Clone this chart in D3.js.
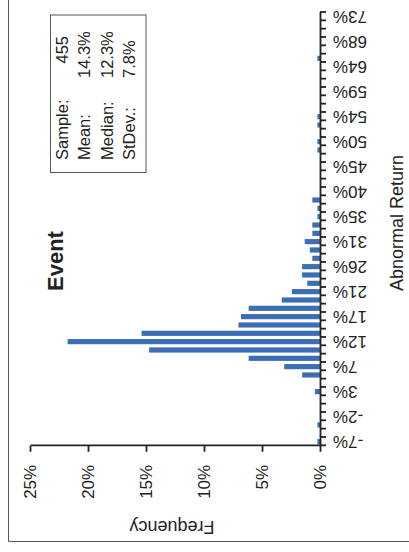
<!DOCTYPE html>
<html><head><meta charset="utf-8">
<script src="https://cdn.jsdelivr.net/npm/d3@7"></script>
<style>
html,body{margin:0;padding:0;background:#fff;}
svg{display:block;}
text{font-family:"Liberation Sans",Arial,Helvetica,sans-serif;fill:#222;}
</style>
</head><body>
<svg id="chart" width="409" height="552"></svg>
<script>
// ---- data ----
const title = "Event";
const xTitle = "Abnormal Return";
const yTitle = "Frequency";
// frequency (%) per abnormal-return bin, from lowest (-7%) to highest (73%)
const frequency = [
  0.22, 0, 0.22, 0, 0, 0, 0.44, 0, 1.54, 3.08,
  6.15, 14.73, 21.76, 15.38, 7.03, 6.81, 6.15, 3.30, 2.42, 1.10,
  1.54, 1.54, 0.66, 0.88, 1.32, 0.66, 0.66, 0.22, 0.22, 0.66,
  0, 0, 0, 0, 0, 0.22, 0.22, 0, 0.22, 0.22,
  0, 0, 0, 0, 0, 0, 0.22, 0, 0, 0,
  0, 0
];
const binTickLabels = ["-7%","-2%","3%","7%","12%","17%","21%","26%","31%","35%",
                       "40%","45%","50%","54%","59%","64%","68%","73%"];
const labelEvery = 3;
const yTicks = [0, 5, 10, 15, 20, 25];
const statLabels = ["Sample:", "Mean:", "Median:", "StDev.:"];
const statValues = ["455", "14.3%", "12.3%", "7.8%"];

// ---- layout (chart drawn upright, then turned a quarter turn) ----
const W = 552, H = 409;
const svg = d3.select("#chart");
const g = svg.append("g").attr("transform", `translate(0,${W}) rotate(-90)`);

const bins = d3.range(frequency.length);
const x = d3.scaleBand().domain(bins).range([106.2, 539.5]).paddingInner(0.38).paddingOuter(0.19);
const xEdges = d3.scaleLinear().domain([0, bins.length]).range([106.2, 539.5]);
const y = d3.scaleLinear().domain([0, 25]).range([320, 30]);

// frame
g.append("path").attr("d", `M${W},8.5 H10.5 V${H}`)
  .attr("fill", "none").attr("stroke", "#555").attr("stroke-width", 1);

// bars
g.append("g").selectAll("rect").data(bins.filter(i => frequency[i] > 0)).join("rect")
  .attr("x", i => x(i)).attr("width", x.bandwidth())
  .attr("y", i => y(frequency[i])).attr("height", i => y(0) - y(frequency[i]))
  .attr("fill", "#3d6db4");

// x axis ticks (between bins)
const xAxisTicks = g.append("g").attr("transform", `translate(0,${y(0)})`)
  .call(d3.axisBottom(xEdges).tickValues(d3.range(bins.length + 1)).tickSize(6).tickSizeOuter(0).tickFormat(""));
xAxisTicks.selectAll("path,line").attr("stroke", "#222").attr("stroke-width", 1.8);

// x axis labels
const xLab = g.append("g").attr("transform", `translate(0,${y(0)})`)
  .call(d3.axisBottom(x).tickValues(bins.filter(i => i % labelEvery === 0)).tickSize(0)
    .tickFormat(i => binTickLabels[i / labelEvery]));
xLab.select(".domain").remove();
xLab.selectAll("text")
  .attr("transform", "rotate(-90)").attr("x", -13).attr("y", 0).attr("dy", "0.35em")
  .attr("text-anchor", "end").style("font-size", "17px")
  .style("font-family", '"Liberation Sans",Arial,sans-serif').attr("fill", "#222");

// y axis
const yAx = g.append("g").attr("transform", `translate(106.2,0)`)
  .call(d3.axisLeft(y).tickValues(yTicks).tickSize(6).tickSizeOuter(0).tickPadding(13).tickFormat(d => d + "%"));
yAx.selectAll("path,line").attr("stroke", "#222").attr("stroke-width", 1.8);
yAx.selectAll("text").style("font-size", "17px")
  .style("font-family", '"Liberation Sans",Arial,sans-serif').attr("fill", "#222");

// titles
g.append("text").attr("x", 291).attr("y", 63).attr("text-anchor", "middle")
  .style("font-size", "22px").style("font-weight", "bold").text(title);
g.append("text").attr("x", 329).attr("y", 403).attr("text-anchor", "middle")
  .style("font-size", "18px").text(xTitle);
g.append("text").attr("transform", "translate(31,172) rotate(-90)").attr("text-anchor", "middle")
  .style("font-size", "18px").text(yTitle);

// stats box
g.append("rect").attr("x", 379.5).attr("y", 50.5).attr("width", 157.5).attr("height", 95.5)
  .attr("fill", "#fff").attr("stroke", "#555").attr("stroke-width", 1);
const st = g.append("g");
statLabels.forEach((s, k) => {
  const yy = 67.5 + k * 22.6;
  st.append("text").attr("x", 392).attr("y", yy).style("font-size", "16.5px").text(s);
  const v = st.append("text").attr("y", yy).style("font-size", "16.5px").text(statValues[k]);
  if (k === 0) v.attr("x", 516).attr("text-anchor", "end");
  else v.attr("x", 474);
});
</script>
</body></html>
